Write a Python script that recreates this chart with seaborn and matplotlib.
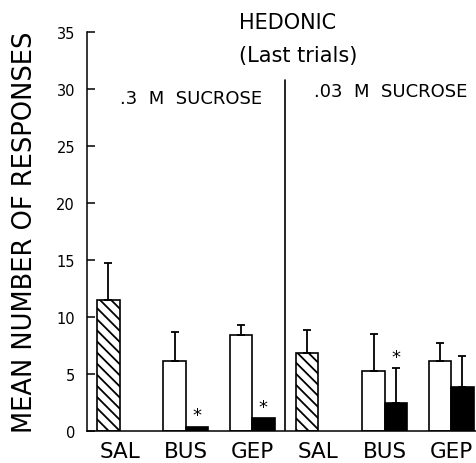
import numpy as np
import pandas as pd
import matplotlib
matplotlib.use("Agg")
import matplotlib.pyplot as plt
import seaborn as sns

# ---- data ----
categories = ["SAL_.3", "BUS_.3", "GEP_.3", "SAL_.03", "BUS_.03", "GEP_.03"]
tick_labels = ["SAL", "BUS", "GEP", "SAL", "BUS", "GEP"]
control_means = [11.5, 6.15, 8.4, 6.8, 5.3, 6.1]
control_err = [3.2, 2.5, 0.9, 2.05, 3.2, 1.65]
drug_means = [np.nan, 0.35, 1.1, np.nan, 2.5, 3.85]
drug_err = [np.nan, 0.0, 0.0, np.nan, 3.0, 2.75]
drug_star = [False, True, True, False, True, False]
hatched = [True, False, False, True, False, False]
panel_titles = [".3  M  SUCROSE", ".03  M  SUCROSE"]
y_ticks = [0, 5, 10, 15, 20, 25, 30, 35]

rows = []
for c, m, e in zip(categories, control_means, control_err):
    rows.append(dict(cat=c, cond="control", value=m, err=e))
for c, m, e in zip(categories, drug_means, drug_err):
    if not np.isnan(m):
        rows.append(dict(cat=c, cond="drug", value=m, err=e))
df = pd.DataFrame(rows)

sns.set_style("white")
plt.rcParams["font.family"] = ["DejaVu Sans"]
plt.rcParams["text.color"] = "black"
plt.rcParams["xtick.color"] = "black"
plt.rcParams["ytick.color"] = "black"
plt.rcParams["axes.labelcolor"] = "black"
plt.rcParams["hatch.linewidth"] = 1.3
plt.rcParams["hatch.color"] = "black"

fig = plt.figure(figsize=(4.77, 4.64), dpi=100)
ax = fig.add_axes([87 / 477, (464 - 432) / 464, 388.7 / 477, (432 - 33) / 464])

sns.barplot(data=df, x="cat", y="value", hue="cond", order=categories,
            hue_order=["control", "drug"],
            palette={"control": "white", "drug": "black"},
            edgecolor="black", linewidth=1.2, width=0.68, saturation=1,
            errorbar=None, legend=False, ax=ax)

bar_containers = list(ax.containers)
# hatching and error bars
for hi, cont in enumerate(bar_containers):
    bars = sorted(cont.patches, key=lambda p: p.get_x())
    cond = ["control", "drug"][hi]
    sub = df[df["cond"] == cond].copy()
    sub["order"] = sub["cat"].map({c: i for i, c in enumerate(categories)})
    sub = sub.sort_values("order")
    for bar, (_, row) in zip(bars, sub.iterrows()):
        idx = int(row["order"])
        xc = bar.get_x() + bar.get_width() / 2
        h = bar.get_height()
        if cond == "control" and hatched[idx]:
            bar.set_hatch("\\\\\\")
        if row["err"] > 0:
            ax.errorbar([xc], [h], yerr=[[0], [row["err"]]], fmt="none",
                        ecolor="black", elinewidth=1.3, capsize=3.2,
                        capthick=1.3, zorder=1)
        if cond == "drug" and drug_star[idx]:
            ax.annotate("*", (xc, h + row["err"]), xytext=(0, 2),
                        textcoords="offset points", ha="center",
                        va="bottom", fontsize=13)

# panel divider
ax.plot([2.5, 2.5], [0, 30.8], color="black", lw=1.2)

ax.set_xlim(-0.49, 5.37)
ax.set_ylim(0, 35)
ax.set_yticks(y_ticks)
ax.set_yticklabels([str(t) for t in y_ticks], fontsize=10.5)
ax.set_xticks(range(len(categories)))
ax.set_xticklabels(tick_labels, fontsize=15.5)
ax.tick_params(axis="y", direction="in", length=6, width=1.1, pad=8.6, left=True)
ax.tick_params(axis="x", length=0, pad=7.5)
ax.set_xlabel("")
ax.set_ylabel("MEAN NUMBER OF RESPONSES", fontsize=18.5)
ax.yaxis.set_label_coords(-0.126, 0.5)

for s in ["top", "right"]:
    ax.spines[s].set_visible(False)
for s in ["left", "bottom"]:
    ax.spines[s].set_linewidth(1.1)
    ax.spines[s].set_color("black")

ax.text(2.54, 35.9, "HEDONIC", ha="center", va="center", fontsize=15, clip_on=False)
ax.text(2.69, 33.0, "(Last trials)", ha="center", va="center", fontsize=15, clip_on=False)
ax.text(1.08, 29.2, panel_titles[0], ha="center", va="center", fontsize=13)
ax.text(4.09, 29.8, panel_titles[1], ha="center", va="center", fontsize=13)

fig.savefig("out.png", dpi=100)
